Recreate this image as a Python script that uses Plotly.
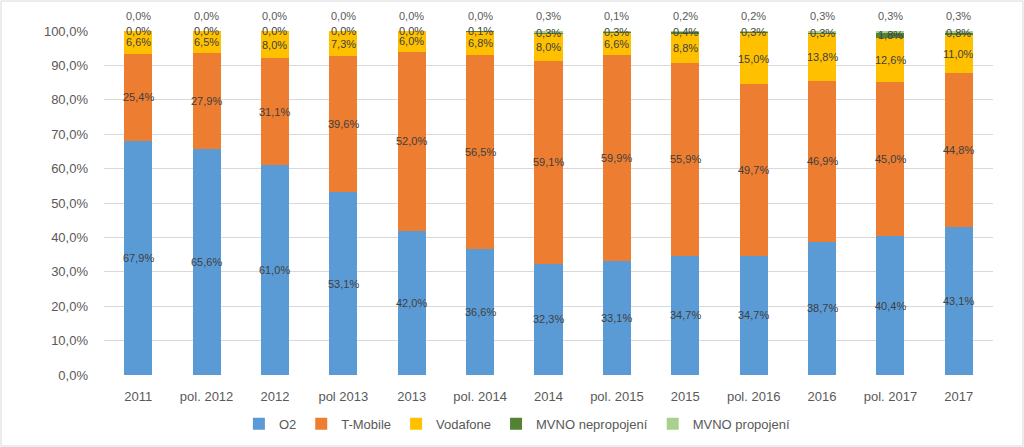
import plotly.graph_objects as go
import numpy as np

categories = ["2011", "pol. 2012", "2012", "pol 2013", "2013", "pol. 2014", "2014",
              "pol. 2015", "2015", "pol. 2016", "2016", "pol. 2017", "2017"]
o2 = [67.9, 65.6, 61.0, 53.1, 42.0, 36.6, 32.3, 33.1, 34.7, 34.7, 38.7, 40.4, 43.1]
tmobile = [25.4, 27.9, 31.1, 39.6, 52.0, 56.5, 59.1, 59.9, 55.9, 49.7, 46.9, 45.0, 44.8]
vodafone = [6.6, 6.5, 8.0, 7.3, 6.0, 6.8, 8.0, 6.6, 8.8, 15.0, 13.8, 12.6, 11.0]
mvno_neprop = [0.0, 0.0, 0.0, 0.0, 0.0, 0.1, 0.3, 0.3, 0.4, 0.3, 0.3, 1.8, 0.8]
mvno_prop = [0.0, 0.0, 0.0, 0.0, 0.0, 0.0, 0.3, 0.1, 0.2, 0.2, 0.3, 0.3, 0.3]

series = [
    ("O2", o2, "#5B9BD5"),
    ("T-Mobile", tmobile, "#ED7D31"),
    ("Vodafone", vodafone, "#FFC000"),
    ("MVNO nepropojení", mvno_neprop, "#548235"),
    ("MVNO propojení", mvno_prop, "#A9D18E"),
]

FONT = "Liberation Sans, Arial, sans-serif"


def fmt(v):
    return f"{v:.1f}".replace(".", ",") + "%"


fig = go.Figure()
arr = np.array([s[1] for s in series])
totals = arr.sum(axis=0)
norm = arr / totals * 100
cum = np.cumsum(norm, axis=0)

for name, vals, color in series:
    fig.add_trace(go.Bar(x=categories, y=vals, name=name, marker_color=color,
                         marker_line_width=0, hoverinfo="skip"))

# data labels (positions derived from the stacked data)
for i, (name, vals, color) in enumerate(series):
    for j, cat in enumerate(categories):
        if i < 4:
            fig.add_annotation(x=j, y=min(cum[i][j] - norm[i][j] / 2, 100.0),
                               xref="x", yref="y", text=fmt(vals[j]), showarrow=False,
                               font=dict(family=FONT, size=11, color="#404040"))
        else:
            # labels of the top series sit just above the 100 % line
            fig.add_annotation(x=j, y=1.0, xref="x", yref="paper", yanchor="bottom",
                               yshift=7, text=fmt(vals[j]), showarrow=False,
                               font=dict(family=FONT, size=11, color="#595959"))

# chart-area border
pw = 1024 - 104 - 31
ph = 447 - 31 - 72
fig.add_shape(type="rect", xref="paper", yref="paper",
              x0=(-104 + 1) / pw, x1=(pw + 31 - 1) / pw,
              y0=(-72 + 1) / ph, y1=(ph + 31 - 1) / ph,
              line=dict(color="#D9D9D9", width=1), fillcolor="rgba(0,0,0,0)", layer="below")

fig.update_layout(
    barmode="stack",
    barnorm="percent",
    bargap=0.59,
    width=1024, height=447,
    margin=dict(l=104, r=31, t=31, b=72, autoexpand=False),
    paper_bgcolor="white", plot_bgcolor="white",
    separators=", ",
    font=dict(family=FONT, color="#595959"),
    legend=dict(orientation="h", x=0.465, xanchor="center",
                yref="container", y=0.052, yanchor="middle",
                font=dict(size=13, color="#595959"), itemwidth=30, traceorder="normal"),
    xaxis=dict(type="category", categoryorder="array", categoryarray=categories,
               showgrid=False, showline=False, ticks="", ticklabelstandoff=12,
               automargin=False, tickfont=dict(size=13, color="#595959")),
    yaxis=dict(range=[0, 100], dtick=10, tickformat=".1f", ticksuffix="%",
               gridcolor="#D9D9D9", gridwidth=1, zeroline=False, showline=False,
               automargin=False,
               tickfont=dict(size=13, color="#595959"), ticklabelstandoff=15),
)

fig.write_html("out.html", config={"displayModeBar": False},
               post_script="document.body.style.margin='0';")
